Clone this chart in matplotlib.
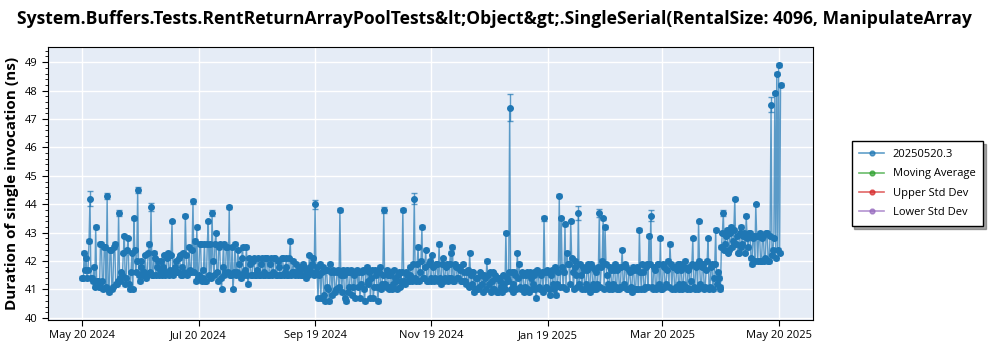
import matplotlib
matplotlib.use("Agg")
import matplotlib.pyplot as plt
import matplotlib.dates as mdates
from matplotlib.lines import Line2D
from matplotlib.ticker import MultipleLocator
import numpy as np
import pandas as pd

start_date = "2024-05-20"
# morning runs, one per day from 2024-05-20
values_am = [
    41.4, 42.3, 42.1, 41.7, 44.2, 41.4, 41.8, 43.2, 41.3, 41.1,
    42.6, 41.0, 42.5, 44.3, 40.9, 42.4, 41.1, 42.6, 41.2, 43.7,
    41.3, 41.5, 42.9, 41.4, 42.8, 41.0, 42.3, 43.5, 41.6, 44.5,
    41.3, 42.0, 41.6, 42.2, 41.5, 42.6, 43.9, 41.5, 42.1, 41.8,
    41.5, 42.0, 41.6, 42.2, 41.6, 42.3, 41.7, 43.4, 41.6, 42.0,
    41.6, 42.2, 41.5, 42.3, 43.6, 41.5, 42.5, 41.6, 44.1, 42.7,
    43.2, 41.5, 42.6, 41.4, 42.6, 41.3, 43.4, 42.6, 43.7, 41.5,
    43.0, 41.3, 42.6, 41.0, 42.6, 41.6, 42.5, 43.9, 41.5, 41.0,
    42.6, 41.6, 41.9, 41.4, 42.5, 41.5, 42.5, 41.2, 41.9, 41.5,
    42.1, 41.5, 42.1, 41.5, 42.1, 41.6, 41.5, 42.1, 41.5, 42.1,
    41.6, 42.1, 41.5, 41.8, 41.5, 42.1, 41.6, 42.1, 41.5, 42.7,
    41.6, 41.6, 41.9, 41.5, 41.7, 41.5, 41.8, 41.4, 41.6, 42.2,
    41.6, 42.1, 44.0, 41.8, 41.5, 40.7, 41.8, 40.6, 41.7, 41.0,
    41.9, 40.8, 41.6, 41.0, 41.7, 43.8, 40.9, 41.5, 40.6, 41.6,
    41.1, 41.7, 41.1, 40.7, 41.7, 41.6, 41.2, 41.7, 40.6, 41.8,
    41.3, 40.7, 41.7, 41.1, 41.5, 40.6, 41.8, 41.2, 43.8, 41.1,
    41.5, 41.0, 41.6, 41.2, 41.4, 41.0, 41.6, 41.3, 43.8, 41.2,
    41.5, 41.3, 41.8, 41.3, 44.2, 41.3, 42.5, 41.6, 43.2, 41.4,
    42.4, 41.3, 42.0, 41.3, 41.8, 41.4, 41.9, 42.6, 41.2, 42.1,
    41.4, 41.9, 41.4, 42.3, 42.5, 41.3, 41.8, 41.4, 41.7, 41.3,
    41.6, 41.2, 41.7, 42.3, 41.2, 41.6, 41.0, 41.4, 41.1, 41.5,
    40.9, 41.4, 42.0, 41.2, 40.9, 41.6, 41.0, 41.4, 40.9, 41.3,
    40.9, 41.2, 43.0, 41.3, 47.4, 41.6, 40.9, 41.5, 42.3, 41.9,
    41.0, 41.5, 41.1, 41.6, 40.9, 41.4, 41.2, 41.6, 40.7, 41.6,
    41.0, 41.6, 43.5, 41.1, 41.6, 40.8, 41.7, 41.0, 41.8, 41.2,
    44.3, 43.5, 41.1, 43.3, 42.3, 41.9, 43.4, 41.6, 42.0, 41.5,
    43.7, 41.9, 41.0, 41.7, 41.2, 41.9, 40.9, 41.8, 41.0, 41.6,
    41.2, 43.7, 41.8, 43.5, 43.2, 41.5, 41.0, 41.7, 41.2, 41.9,
    41.0, 41.8, 41.1, 42.4, 41.2, 41.8, 41.0, 41.6, 40.9, 41.7,
    41.0, 41.8, 43.1, 41.0, 41.6, 41.1, 41.9, 42.9, 43.6, 41.0,
    41.7, 41.1, 41.9, 42.8, 41.0, 41.8, 41.2, 42.0, 42.6, 41.0,
    41.8, 41.1, 41.9, 41.0, 41.7, 41.2, 42.0, 41.0, 41.8, 41.3,
    42.8, 41.0, 41.9, 43.4, 41.2, 41.8, 41.0, 41.7, 42.8, 41.1,
    41.9, 41.4, 43.1, 41.6, 41.0, 42.5, 43.7, 42.6, 43.1, 42.4,
    43.2, 42.7, 44.2, 42.9, 42.3, 43.2, 42.6, 43.0, 43.6, 42.5,
    43.0, 41.9, 42.9, 44.0, 42.0, 43.0, 42.0, 42.9, 42.1, 43.0,
    42.0, 47.5, 42.4, 47.9, 48.6, 48.9, 48.2,
]
# evening runs, one per day from 2024-05-20 12:00
values_pm = [
    41.4, 41.7, 41.4, 42.7, 41.4, 41.3, 41.1, 41.3, 41.1, 42.6,
    41.3, 42.5, 41.1, 41.0, 42.4, 41.0, 42.5, 41.2, 41.3, 41.4,
    41.6, 42.3, 41.2, 42.4, 41.2, 41.6, 41.0, 42.4, 42.0, 41.5,
    41.8, 41.5, 41.6, 41.4, 42.3, 41.6, 41.5, 42.3, 41.5, 42.0,
    41.7, 41.5, 41.8, 41.5, 42.1, 41.5, 42.2, 41.5, 41.8, 41.6,
    42.1, 41.5, 41.8, 41.6, 42.2, 41.6, 41.7, 42.4, 41.6, 41.3,
    41.4, 42.6, 41.3, 41.7, 41.3, 42.6, 41.5, 41.4, 42.0, 42.6,
    41.6, 42.5, 41.4, 41.8, 41.5, 42.5, 41.6, 41.5, 42.5, 41.6,
    41.5, 42.4, 41.5, 42.1, 41.6, 41.7, 41.5, 42.1, 41.5, 42.0,
    41.5, 41.7, 41.5, 41.9, 41.5, 42.1, 42.1, 41.5, 41.9, 41.5,
    42.1, 41.5, 42.0, 41.5, 42.1, 41.5, 41.8, 41.5, 42.1, 41.5,
    42.0, 41.5, 41.6, 41.8, 41.5, 41.9, 41.5, 41.7, 41.5, 41.8,
    41.9, 41.5, 41.6, 40.7, 41.9, 41.6, 40.8, 41.7, 41.1, 40.6,
    41.6, 41.7, 40.9, 41.6, 41.1, 41.5, 41.7, 40.7, 41.7, 40.9,
    41.6, 40.8, 41.5, 41.6, 41.1, 40.7, 41.6, 41.0, 41.7, 41.2,
    41.6, 41.4, 40.7, 41.7, 41.1, 41.6, 41.0, 41.5, 41.2, 41.7,
    41.1, 41.5, 41.0, 41.7, 41.3, 41.5, 41.1, 41.6, 41.3, 41.6,
    41.3, 41.5, 41.4, 41.9, 41.4, 41.9, 41.3, 42.0, 41.4, 41.8,
    41.3, 41.9, 41.4, 42.2, 41.3, 41.9, 41.3, 41.4, 41.9, 41.3,
    41.8, 41.3, 41.9, 41.4, 41.3, 41.9, 41.4, 41.8, 41.3, 41.9,
    41.3, 41.6, 41.1, 41.5, 41.6, 40.9, 41.4, 41.0, 41.6, 41.2,
    41.5, 41.0, 41.5, 41.6, 41.3, 41.0, 41.5, 40.9, 41.4, 41.1,
    41.5, 41.0, 41.4, 41.6, 41.0, 41.2, 41.6, 41.0, 41.4, 41.1,
    41.6, 40.9, 41.5, 41.0, 41.6, 41.0, 41.5, 41.0, 41.7, 41.1,
    41.5, 40.9, 41.6, 41.7, 41.0, 41.5, 41.2, 41.7, 40.8, 41.6,
    41.1, 41.8, 41.6, 41.0, 41.9, 41.2, 42.1, 41.0, 41.8, 41.1,
    41.2, 41.5, 41.8, 41.0, 41.7, 41.1, 41.9, 41.2, 41.7, 41.0,
    41.8, 41.1, 42.0, 41.0, 41.9, 41.2, 41.8, 41.0, 41.7, 41.1,
    41.7, 41.0, 41.8, 41.1, 41.9, 41.0, 41.7, 41.1, 41.8, 41.0,
    41.7, 41.0, 41.6, 41.9, 41.0, 41.8, 41.1, 41.9, 41.1, 41.8,
    41.0, 41.9, 41.2, 41.0, 41.9, 41.1, 41.7, 41.1, 41.9, 41.8,
    41.0, 41.7, 41.2, 41.9, 41.0, 41.8, 41.1, 41.7, 41.0, 41.9,
    41.1, 41.8, 41.0, 42.0, 41.1, 41.9, 41.1, 42.0, 41.0, 41.8,
    41.0, 41.9, 41.2, 41.4, 41.1, 43.0, 42.4, 42.9, 42.3, 43.0,
    42.5, 43.1, 42.6, 42.3, 43.0, 42.5, 42.9, 42.3, 42.8, 43.0,
    42.1, 42.8, 42.0, 42.9, 42.9, 42.0, 42.8, 42.0, 43.0, 42.0,
    42.9, 42.2, 42.8, 42.1, 42.4, 42.3,
]
base_err = 0.06
# morning day index -> error for the points with wider bars
big_err = {4: 0.25, 13: 0.1, 19: 0.1, 29: 0.1, 36: 0.15, 58: 0.1, 68: 0.1,
           122: 0.15, 158: 0.1, 174: 0.2, 224: 0.47, 242: 0.1, 260: 0.25,
           271: 0.15, 298: 0.2, 336: 0.1, 361: 0.27}

tick_dates = ["2024-05-20", "2024-07-20", "2024-09-19", "2024-11-19",
              "2025-01-19", "2025-03-20", "2025-05-20"]
legend_names = ["20250520.3", "Moving Average", "Upper Std Dev", "Lower Std Dev"]
legend_colors = ["#1f77b4", "#2ca02c", "#d62728", "#9467bd"]
title = ("System.Buffers.Tests.RentReturnArrayPoolTests&lt;Object&gt;"
         ".SingleSerial(RentalSize: 4096, ManipulateArray")

err_am = np.full(len(values_am), base_err)
for k, v in big_err.items():
    err_am[k] = v
am = pd.DataFrame({"date": pd.date_range(start_date, periods=len(values_am), freq="D"),
                   "value": values_am, "err": err_am})
pm = pd.DataFrame({"date": pd.date_range(start_date + " 12:00", periods=len(values_pm), freq="D"),
                   "value": values_pm, "err": base_err})
df = pd.concat([am, pm]).sort_values("date")

plt.rcParams['font.family'] = ['Open Sans', 'DejaVu Sans']
fig = plt.figure(figsize=(10, 3.5), dpi=100)
ax = fig.add_axes([0.048, 0.086, 0.765, 0.781])
ax.set_facecolor("#e5ecf6")

blue = "#1f77b4"
ax.errorbar(df["date"], df["value"], yerr=df["err"], fmt="none", ecolor=blue,
            elinewidth=1, capsize=2.5, alpha=0.7, zorder=2)
ax.plot(df["date"], df["value"], color=blue, lw=1.0, alpha=0.7, zorder=3)
ax.plot(df["date"], df["value"], ls="none", marker="o", ms=4.0, color=blue, zorder=4)

ax.set_ylim(39.93, 49.55)
ax.set_xlim(pd.Timestamp("2024-05-02"), pd.Timestamp("2025-06-07"))
ax.yaxis.set_major_locator(MultipleLocator(1))
ax.yaxis.set_minor_locator(MultipleLocator(0.2))
ax.set_xticks(pd.to_datetime(tick_dates))
ax.xaxis.set_major_formatter(mdates.DateFormatter("%b %d %Y"))
ax.grid(True, color="white", lw=1)
ax.set_axisbelow(True)
ax.tick_params(axis="both", labelsize=8, length=4, color="black")
ax.tick_params(axis="y", which="minor", length=2)
for s in ax.spines.values():
    s.set_color("black")

ax.set_ylabel("Duration of single invocation (ns)", fontsize=11,
              fontweight="bold", labelpad=4)
fig.text(0.017, 0.947, title, fontsize=12.6, fontweight="bold", ha="left",
         va="center")

handles = [Line2D([0], [0], color=c, lw=1.2, alpha=0.7, marker="o", ms=3.5,
                  markerfacecolor=c, markeredgecolor=c) for c in legend_colors]
leg = fig.legend(handles, legend_names, loc="upper left",
                 bbox_to_anchor=(0.846, 0.612), fontsize=8, frameon=True,
                 fancybox=False, shadow=True, edgecolor="black",
                 handlelength=2.2, labelspacing=0.75, borderpad=0.7)
leg.get_frame().set_linewidth(1)

fig.savefig("out.png", dpi=100)
